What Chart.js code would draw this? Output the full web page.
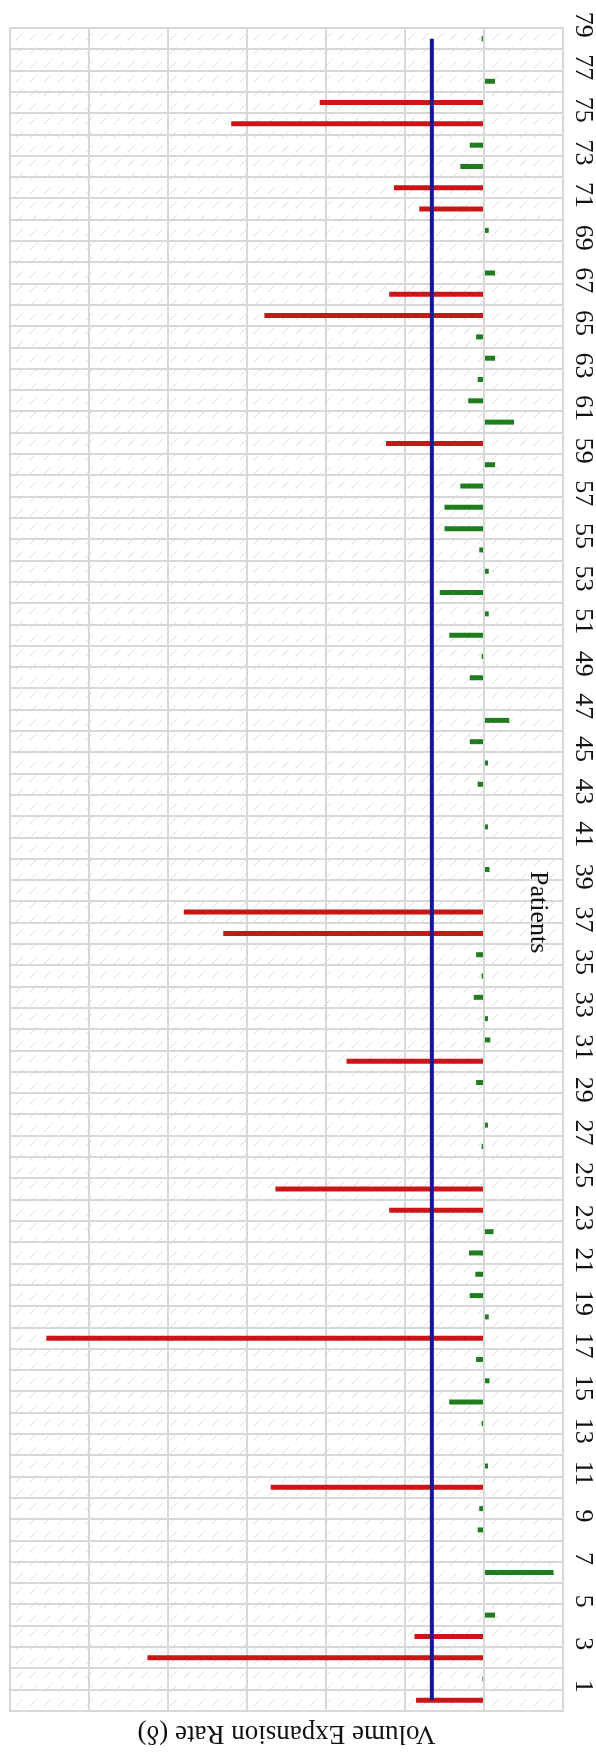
<!DOCTYPE html>
<html>
<head>
<meta charset="utf-8">
<title>Volume Expansion Rate per Patient</title>
<script src="https://cdn.jsdelivr.net/npm/chart.js"></script>
<style>
  html, body { margin: 0; padding: 0; background: #ffffff; }
  #wrap { position: relative; width: 596px; height: 1757px; }
</style>
</head>
<body>
<div id="wrap"><canvas id="chart"></canvas></div>
<script>
// Patient numbers on the category axis (1 .. 79)
const patients = Array.from({ length: 79 }, (_, i) => String(i + 1));

// Volume expansion rate δ for each patient, in patient order
const volumeExpansionRate = [
  0.43, 0.01, 2.13, 0.44, -0.07, 0, -0.44, 0, 0.04, 0.03,      // 1-10
  1.35, -0.025, 0, 0.015, 0.22, -0.035, 0.05, 2.77, -0.03, 0.09, // 11-20
  0.055, 0.095, -0.06, 0.6, 1.32, 0, 0.015, -0.025, 0, 0.05,   // 21-30
  0.87, -0.04, -0.025, 0.065, 0.015, 0.05, 1.65, 1.9, 0, -0.035, // 31-40
  0, -0.025, 0, 0.04, -0.025, 0.09, -0.16, 0, 0.09, 0.015,     // 41-50
  0.22, -0.03, 0.28, -0.03, 0.03, 0.25, 0.25, 0.15, -0.07, 0.62, // 51-60
  -0.19, 0.1, 0.04, -0.07, 0.05, 1.39, 0.6, -0.07, 0, -0.03,   // 61-70
  0.41, 0.57, 0.15, 0.09, 1.6, 1.04, -0.07, 0, 0.015           // 71-79
];

// Expansion threshold (δ > 0.33 counts as expansion)
const EXPANSION_THRESHOLD = 0.33;
const thresholdLine = [
  { x: EXPANSION_THRESHOLD, y: patients[0] },
  { x: EXPANSION_THRESHOLD, y: patients[patients.length - 1] }
];

// Value axis range and grid step
const valueMin = -0.5;
const valueMax = 3.0;
const valueStep = 0.5;

const VALUE_AXIS_TITLE = 'Volume Expansion Rate (δ)';
const CATEGORY_AXIS_TITLE = 'Patients';

const RED = '#c91616';
const GREEN = '#1f7d1f';
const BLUE = '#15159c';
const GRID = '#d8d8d8';
const SERIF = '"Liberation Serif", "Times New Roman", serif';

// Light diagonal hatching behind the plot
const hatchPlugin = {
  id: 'hatch',
  beforeDraw(chart) {
    const { ctx, chartArea: a } = chart;
    const tile = document.createElement('canvas');
    tile.width = 14; tile.height = 14;
    const t = tile.getContext('2d');
    t.strokeStyle = '#dedede';
    t.lineWidth = 1;
    t.beginPath();
    t.moveTo(2, 12);
    t.lineTo(9, 5);
    t.stroke();
    ctx.save();
    ctx.fillStyle = '#ffffff';
    ctx.fillRect(0, 0, chart.width, chart.height);
    ctx.fillStyle = ctx.createPattern(tile, 'repeat');
    ctx.fillRect(a.left, a.top, a.right - a.left, a.bottom - a.top);
    ctx.restore();
  }
};

// Axis titles drawn in the rotated orientation of the figure
const axisTitlePlugin = {
  id: 'axisTitles',
  afterDraw(chart) {
    const { ctx, chartArea: a, scales } = chart;
    ctx.save();
    ctx.fillStyle = '#111111';
    ctx.font = '27px ' + SERIF;
    ctx.textAlign = 'center';
    ctx.textBaseline = 'middle';
    ctx.translate((a.left + a.right) / 2, a.bottom + 22);
    ctx.rotate(Math.PI);
    ctx.fillText(VALUE_AXIS_TITLE, 0, 0);
    ctx.restore();

    ctx.save();
    ctx.fillStyle = '#111111';
    ctx.font = '26px ' + SERIF;
    ctx.textAlign = 'center';
    ctx.textBaseline = 'middle';
    ctx.translate(scales.x.getPixelForValue(-0.34), scales.y.getPixelForValue(37));
    ctx.rotate(Math.PI / 2);
    ctx.fillText(CATEGORY_AXIS_TITLE, 0, 0);
    ctx.restore();
  }
};

new Chart(document.getElementById('chart'), {
  type: 'bar',
  data: {
    labels: patients,
    datasets: [
      {
        type: 'line',
        label: 'threshold',
        indexAxis: 'y',
        data: thresholdLine,
        borderColor: BLUE,
        borderWidth: 4,
        pointRadius: 0,
        fill: false,
        order: 0
      },
      {
        type: 'bar',
        label: 'δ',
        data: volumeExpansionRate,
        backgroundColor: ctx => (ctx.raw > EXPANSION_THRESHOLD ? RED : GREEN),
        barThickness: 5,
        inflateAmount: 0,
        borderWidth: 0,
        order: 1
      }
    ]
  },
  options: {
    indexAxis: 'y',
    responsive: true,
    maintainAspectRatio: false,
    animation: false,
    layout: { padding: { top: 28, left: 10, right: 0, bottom: 0 } },
    plugins: {
      legend: { display: false },
      tooltip: { enabled: false },
      title: { display: false }
    },
    scales: {
      x: {
        type: 'linear',
        position: 'bottom',
        reverse: true,
        min: valueMin,
        max: valueMax,
        ticks: { stepSize: valueStep, display: false },
        grid: { color: GRID, lineWidth: 2, drawTicks: false },
        border: { color: GRID, width: 2 },
        afterFit: s => { s.height = 46; }
      },
      y: {
        type: 'category',
        position: 'right',
        reverse: true,
        offset: true,
        grid: { offset: true, color: GRID, lineWidth: 2, drawTicks: false },
        border: { color: GRID, width: 2 },
        ticks: {
          autoSkip: false,
          minRotation: -90,
          maxRotation: -90,
          crossAlign: 'center',
          padding: 7,
          labelOffset: -14,
          color: '#111111',
          font: { family: SERIF, size: 26 },
          callback: (value, index) => (index % 2 === 0 ? patients[index] : '')
        },
        afterFit: s => { s.width = 33; }
      }
    }
  },
  plugins: [hatchPlugin, axisTitlePlugin]
});
</script>
</body>
</html>
